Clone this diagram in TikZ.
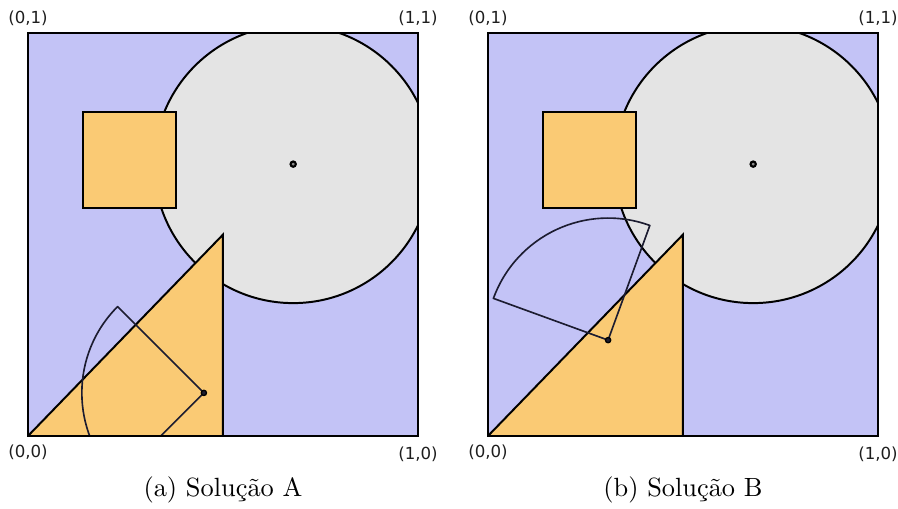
\documentclass[tikz,border=0pt]{standalone}
\usepackage{fontspec}
\usepackage{tikz}
\usetikzlibrary{positioning,calc}
\newfontfamily\cornerfont{DejaVu Sans}
\definecolor{regionblue}{RGB}{195,195,246}
\definecolor{itemorange}{RGB}{250,202,116}
\definecolor{circgray}{RGB}{228,228,228}
\definecolor{sectornavy}{RGB}{28,28,48}
\definecolor{labelgray}{RGB}{30,30,30}

\begin{document}
\begin{tikzpicture}[
  shapeline/.style={draw=black, line width=0.75pt, line join=miter},
  sectorline/.style={draw=sectornavy, line width=0.62pt, line join=round},
  borderline/.style={draw=black, line width=0.6pt},
  centermark/.style={draw=black, fill=circgray!60!black, line width=0.8pt},
  sectormark/.style={draw=black, fill=sectornavy, line width=0.5pt},
  corner/.style={font=\cornerfont\fontsize{6.3}{7}\selectfont, text=labelgray, inner sep=0pt},
  caption/.style={font=\normalsize, inner sep=0pt}
]
\useasboundingbox (-0.373,-0.973) rectangle (11.6,5.813);

% Panel A
\begin{scope}[x=5.2cm, y=5.37cm]
\fill[regionblue] (0,0) rectangle (1,1);
\coordinate (cA) at (0.68,0.675);
\coordinate (sA) at (0.451,0.107);
\begin{scope}
\clip (0,0) rectangle (1,1);
\draw[shapeline, fill=circgray] (cA) circle[radius=1.853cm];
\draw[shapeline, fill=itemorange] (0.14,0.565) rectangle (0.38,0.805);
\draw[shapeline, fill=itemorange] (0,0) -- (0.5,0) -- (0.5,0.5) -- cycle;
\draw[sectorline] (sA) -- ++(135:1.627cm) arc[start angle=135, end angle=225, radius=1.627cm] -- cycle;
\end{scope}
\draw[centermark] (cA) circle (1pt);
\draw[sectormark] (sA) circle (1pt);
\draw[borderline] (0,0) rectangle (1,1);
% Corners + caption
\coordinate (a00) at (0,0);
\coordinate (a10) at (1,0);
\coordinate (a01) at (0,1);
\coordinate (a11) at (1,1);
\coordinate (abot) at (0.5,0);
\node[corner, below=1.1mm of a00] (la00) {(0,0)};
\node[corner, below=1.35mm of a10] (la10) {(1,0)};
\node[corner, above=1mm of a01] (la01) {(0,1)};
\node[corner, above=0.95mm of a11] (la11) {(1,1)};
\node[caption, below=5.4mm of abot] (capA) {(a) Solução A};
\end{scope}

% Panel B
\begin{scope}[xshift=6.133cm, x=5.2cm, y=5.37cm]
\fill[regionblue] (0,0) rectangle (1,1);
\coordinate (cB) at (0.68,0.675);
\coordinate (sB) at (0.308,0.238);
\begin{scope}
\clip (0,0) rectangle (1,1);
\draw[shapeline, fill=circgray] (cB) circle[radius=1.853cm];
\draw[shapeline, fill=itemorange] (0.14,0.565) rectangle (0.38,0.805);
\draw[shapeline, fill=itemorange] (0,0) -- (0.5,0) -- (0.5,0.5) -- cycle;
\draw[sectorline] (sB) -- ++(70:1.627cm) arc[start angle=70, end angle=160, radius=1.627cm] -- cycle;
\end{scope}
\draw[centermark] (cB) circle (1pt);
\draw[sectormark] (sB) circle (1pt);
\draw[borderline] (0,0) rectangle (1,1);
% Corners + caption
\coordinate (b00) at (0,0);
\coordinate (b10) at (1,0);
\coordinate (b01) at (0,1);
\coordinate (b11) at (1,1);
\coordinate (bbot) at (0.5,0);
\node[corner, below=1.1mm of b00] (lb00) {(0,0)};
\node[corner, below=1.35mm of b10] (lb10) {(1,0)};
\node[corner, above=1mm of b01] (lb01) {(0,1)};
\node[corner, above=0.95mm of b11] (lb11) {(1,1)};
\node[caption, below=5.4mm of bbot] (capB) {(b) Solução B};
\end{scope}
\end{tikzpicture}
\end{document}
